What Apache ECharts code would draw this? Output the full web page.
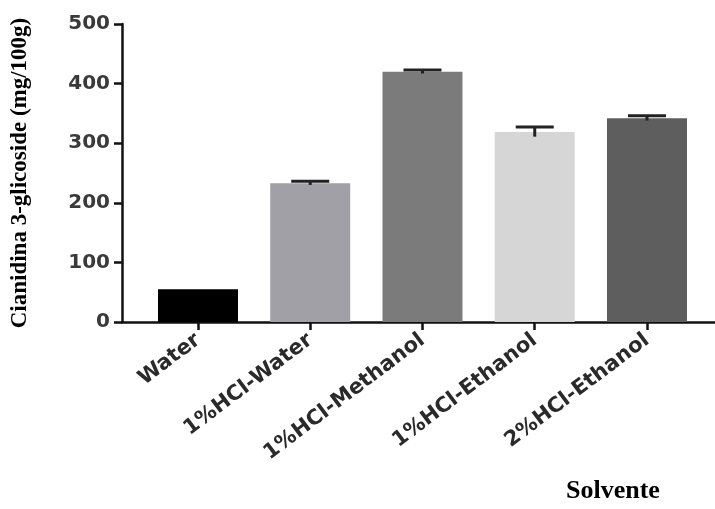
<!DOCTYPE html>
<html>
<head>
<meta charset="utf-8">
<script src="https://cdn.jsdelivr.net/npm/echarts@6/dist/echarts.min.js"></script>
<style>html,body{margin:0;padding:0;background:#fff}#c{width:715px;height:509px}</style>
</head>
<body>
<div id="c"></div>
<script>
var categories = ['Water', '1%HCl-Water', '1%HCl-Methanol', '1%HCl-Ethanol', '2%HCl-Ethanol'];
var values = [55, 233, 420, 319, 342];
var errors = [0, 3, 3, 8, 4];
var barColors = ['#000000', '#a0a0a6', '#7b7b7b', '#d6d6d6', '#5e5e5e'];
var yTicks = [0, 100, 200, 300, 400, 500];
var xTitle = 'Solvente';
var yTitle = 'Cianidina 3-glicoside (mg/100g)';
var catIdx = categories.map(function (c, i) { return i; });

var chart = echarts.init(document.getElementById('c'), null, {renderer: 'canvas'});
chart.setOption({
  animation: false,
  backgroundColor: '#ffffff',
  title: {
    text: xTitle, left: 566, top: 478, padding: 0,
    textStyle: {fontFamily: 'Liberation Serif', fontWeight: 'bold', fontSize: 26, color: '#000'}
  },
  grid: {left: 122, right: 0, top: 24, bottom: 187, containLabel: false, outerBoundsMode: 'none'},
  xAxis: {
    type: 'value', min: -0.677, max: 4.606,
    splitLine: {show: false},
    axisLine: {show: true, onZero: false, lineStyle: {color: '#111', width: 2.5}},
    axisTick: {show: true, customValues: catIdx, length: 8, lineStyle: {color: '#111', width: 2.5}},
    axisLabel: {
      show: true, customValues: catIdx, rotate: 37, margin: 16,
      fontFamily: 'DejaVu Sans', fontWeight: 'bold', fontSize: 21, color: '#2a2a2a',
      formatter: function (v) { return categories[Math.round(v)]; }
    }
  },
  yAxis: {
    type: 'value', min: 0, max: 500, interval: 100,
    splitLine: {show: false},
    axisLine: {show: true, onZero: false, lineStyle: {color: '#111', width: 2.5}},
    axisTick: {show: true, length: 8, lineStyle: {color: '#111', width: 2.5}},
    axisLabel: {margin: 12, fontFamily: 'DejaVu Sans', fontWeight: 'bold', fontSize: 20, color: '#3a3a3a',
      formatter: function (v) { return yTicks.indexOf(v) >= 0 ? String(v) : ''; }},
    name: yTitle, nameLocation: 'middle', nameGap: 90,
    nameTextStyle: {fontFamily: 'Liberation Serif', fontWeight: 'bold', fontSize: 23, color: '#000'}
  },
  series: [
    {
      type: 'bar', barWidth: 80,
      data: values.map(function (v, i) { return {value: [i, v], itemStyle: {color: barColors[i]}}; })
    },
    {
      type: 'custom',
      data: values.map(function (v, i) { return [i, v, errors[i]]; }),
      renderItem: function (params, api) {
        var i = api.value(0), v = api.value(1), e = api.value(2);
        if (!e) return null;
        var top = api.coord([i, v + e]);
        var bot = api.coord([i, v - e]);
        var half = 19;
        return {
          type: 'group',
          children: [
            {type: 'line', shape: {x1: top[0], y1: top[1], x2: bot[0], y2: bot[1]}, style: {stroke: '#222', lineWidth: 3}},
            {type: 'line', shape: {x1: top[0] - half, y1: top[1], x2: top[0] + half, y2: top[1]}, style: {stroke: '#222', lineWidth: 3}}
          ]
        };
      },
      z: 5
    }
  ]
});
</script>
</body>
</html>
